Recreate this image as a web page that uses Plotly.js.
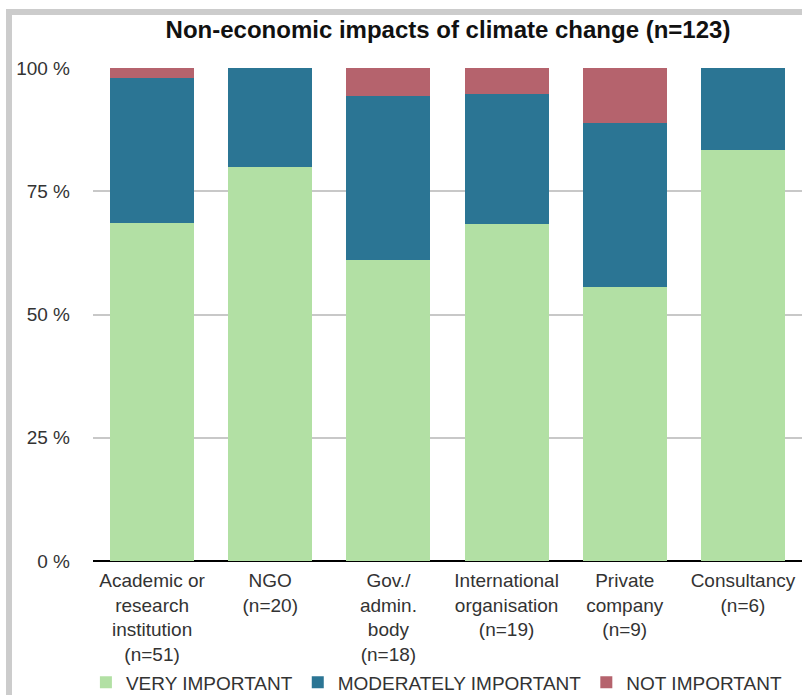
<!DOCTYPE html>
<html>
<head>
<meta charset="utf-8">
<script src="https://cdn.plot.ly/plotly-3.0.1.min.js"></script>
<style>
  html, body { margin: 0; padding: 0; background: #fff; }
  #wrap { position: relative; width: 802px; height: 695px; overflow: hidden; }
  #chart { width: 802px; height: 695px; }
  #frame { position: absolute; left: 6px; top: 9px; right: -10px; bottom: -10px;
           border-left: 6px solid #cccccc; border-top: 6px solid #cccccc; pointer-events: none; }
</style>
</head>
<body>
<div id="wrap">
  <div id="chart"></div>
  <div id="frame"></div>
</div>
<script>
// Categories and tick labels
const categories = ["Academic", "NGO", "Gov", "International", "Private", "Consultancy"];
const tickLabels = [
  "Academic or<br>research<br>institution<br>(n=51)",
  "NGO<br>(n=20)",
  "Gov./<br>admin.<br>body<br>(n=18)",
  "International<br>organisation<br>(n=19)",
  "Private<br>company<br>(n=9)",
  "Consultancy<br>(n=6)"
];
const yTickValues = [0, 25, 50, 75, 100];
const yTickLabels = ["0 %", "25 %", "50 %", "75 %", "100 %"];
// Series values (percent of respondents)
const veryImportant = [68.6, 80.0, 61.1, 68.4, 55.6, 83.3];
const moderatelyImportant = [29.4, 20.0, 33.3, 26.3, 33.3, 16.7];
const notImportant = [2.0, 0.0, 5.6, 5.3, 11.1, 0.0];
const seriesNames = ["VERY IMPORTANT", "MODERATELY IMPORTANT", "NOT IMPORTANT"];
const seriesColors = ["#b2e0a4", "#2b7594", "#b5636d"];

const seriesValues = [veryImportant, moderatelyImportant, notImportant];
const traces = seriesValues.map((vals, i) => ({
  type: "bar",
  name: seriesNames[i],
  x: categories,
  y: vals,
  marker: { color: seriesColors[i], line: { width: 0 } },
  hoverinfo: "skip"
}));

const layout = {
  width: 802,
  height: 695,
  barmode: "stack",
  bargap: 0.29,
  paper_bgcolor: "rgba(0,0,0,0)",
  plot_bgcolor: "rgba(0,0,0,0)",
  margin: { l: 93, r: 0, t: 68, b: 134, autoexpand: false },
  font: { family: "Liberation Sans, Arial, sans-serif", color: "#333333" },
  title: {
    text: "<b>Non-economic impacts of climate change (n=123)</b>",
    font: { size: 24, color: "#111111", family: "Liberation Sans, Arial, sans-serif" },
    x: 0.5586, xanchor: "center", xref: "container",
    y: 0.957, yanchor: "middle", yref: "container"
  },
  xaxis: {
    tickvals: categories,
    ticktext: tickLabels,
    tickfont: { size: 19, color: "#333333" },
    showgrid: false,
    showline: false,
    ticks: "",
    ticklabelstandoff: 6,
    automargin: false,
    fixedrange: true
  },
  yaxis: {
    range: [0, 100],
    tickmode: "array",
    tickvals: yTickValues,
    ticktext: yTickLabels,
    tickfont: { size: 19, color: "#333333" },
    showgrid: true,
    gridcolor: "#c8c8c8",
    gridwidth: 2,
    zeroline: true,
    zerolinecolor: "#000000",
    zerolinewidth: 2,
    ticks: "",
    ticklabelstandoff: 22,
    automargin: false,
    fixedrange: true
  },
  showlegend: true,
  legend: {
    orientation: "h",
    x: -0.01, xanchor: "left",
    y: -0.246, yanchor: "middle",
    font: { size: 19, color: "#333333" },
    bgcolor: "rgba(0,0,0,0)",
    traceorder: "normal"
  }
};

Plotly.newPlot("chart", traces, layout, { displayModeBar: false, staticPlot: true });
</script>
</body>
</html>
